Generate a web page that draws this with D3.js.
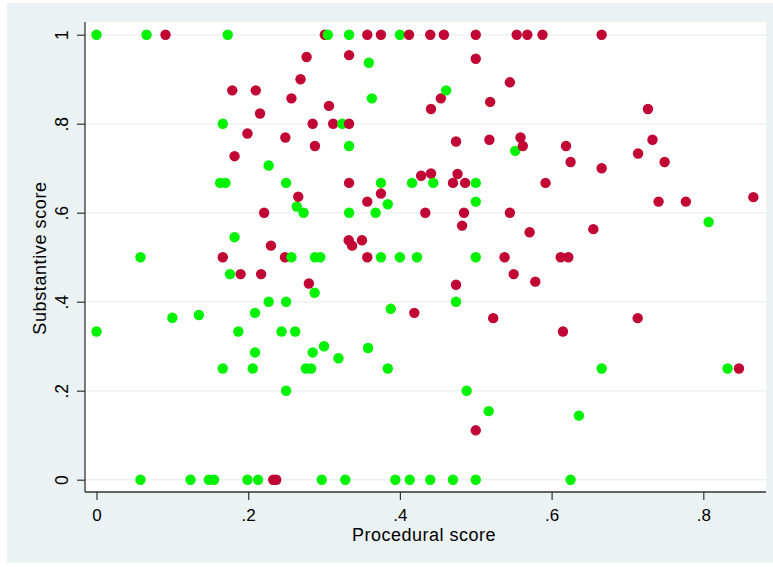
<!DOCTYPE html>
<html>
<head>
<meta charset="utf-8">
<script src="https://cdn.jsdelivr.net/npm/d3@7"></script>
<style>
  html, body { margin: 0; padding: 0; background: #ffffff; }
  svg { display: block; }
  text { font-family: "Liberation Sans", Arial, sans-serif; fill: #000; }
</style>
</head>
<body>
<svg id="chart" width="773" height="567"></svg>
<script>
// Procedural vs. substantive scores, two groups
const greenProcedural = [0, 0.066, 0.173, 0.305, 0.333, 0.4, 0.359, 0.461, 0.363, 0.1665, 0.324, 0.333,
  0.552, 0.227, 0.163, 0.170, 0.25, 0.375, 0.416, 0.444, 0.5, 0.5, 0.264, 0.273, 0.333, 0.368, 0.384,
  0.807, 0.182, 0.058, 0.257, 0.288, 0.295, 0.375, 0.4, 0.4225, 0.5, 0.176, 0.2876, 0.227, 0.25, 0.474,
  0.388, 0.1, 0.135, 0.209, 0, 0.187, 0.244, 0.262, 0.3, 0.358, 0.209, 0.285, 0.319, 0.1665, 0.206,
  0.276, 0.283, 0.384, 0.666, 0.832, 0.25, 0.488, 0.517, 0.636, 0.058, 0.124, 0.148, 0.155, 0.199,
  0.213, 0.297, 0.328, 0.394, 0.413, 0.44, 0.47, 0.5, 0.625];
const greenSubstantive = [1, 1, 1, 1, 1, 1, 0.937, 0.875, 0.857, 0.8, 0.8, 0.75,
  0.739, 0.706, 0.667, 0.667, 0.667, 0.667, 0.667, 0.667, 0.667, 0.625, 0.614, 0.6, 0.6, 0.6, 0.619,
  0.579, 0.545, 0.5, 0.5, 0.5, 0.5, 0.5, 0.5, 0.5, 0.5, 0.462, 0.42, 0.4, 0.4, 0.4,
  0.384, 0.364, 0.37, 0.375, 0.333, 0.333, 0.333, 0.333, 0.3, 0.296, 0.286, 0.286, 0.273, 0.25, 0.25,
  0.25, 0.25, 0.25, 0.25, 0.25, 0.2, 0.2, 0.154, 0.144, 0, 0, 0, 0, 0,
  0, 0, 0, 0, 0, 0, 0, 0, 0];

const redProcedural = [0.091, 0.301, 0.357, 0.375, 0.412, 0.44, 0.458, 0.5, 0.554, 0.568, 0.588, 0.666,
  0.277, 0.333, 0.5, 0.269, 0.545, 0.179, 0.21, 0.257, 0.454, 0.519, 0.3065, 0.441, 0.727, 0.2156,
  0.285, 0.312, 0.333, 0.199, 0.249, 0.559, 0.474, 0.518, 0.733, 0.288, 0.562, 0.619, 0.714, 0.182,
  0.625, 0.749, 0.666, 0.428, 0.441, 0.476, 0.333, 0.470, 0.486, 0.592, 0.266, 0.375, 0.357, 0.741,
  0.777, 0.866, 0.221, 0.4335, 0.4845, 0.545, 0.482, 0.571, 0.655, 0.3325, 0.337, 0.35, 0.23, 0.1665,
  0.2485, 0.357, 0.538, 0.612, 0.622, 0.19, 0.217, 0.55, 0.5785, 0.28, 0.474, 0.419, 0.523, 0.7135,
  0.615, 0.847, 0.5, 0.233, 0.237];
const redSubstantive = [1, 1, 1, 1, 1, 1, 1, 1, 1, 1, 1, 1,
  0.95, 0.954, 0.946, 0.9, 0.893, 0.875, 0.875, 0.857, 0.857, 0.849, 0.84, 0.833, 0.833, 0.823,
  0.8, 0.8, 0.8, 0.778, 0.769, 0.769, 0.76, 0.764, 0.764, 0.75, 0.75, 0.75, 0.733, 0.727,
  0.714, 0.714, 0.7, 0.683, 0.688, 0.687, 0.667, 0.667, 0.667, 0.667, 0.636, 0.643, 0.625, 0.625,
  0.625, 0.635, 0.6, 0.6, 0.6, 0.6, 0.571, 0.556, 0.563, 0.538, 0.526, 0.538, 0.526, 0.5,
  0.5, 0.5, 0.5, 0.5, 0.5, 0.462, 0.462, 0.462, 0.445, 0.441, 0.438, 0.375, 0.363, 0.363,
  0.333, 0.25, 0.111, 0, 0];

const xTicks = [0, 0.2, 0.4, 0.6, 0.8];
const xTickLabels = ["0", ".2", ".4", ".6", ".8"];
const yTicks = [0, 0.2, 0.4, 0.6, 0.8, 1];
const yTickLabels = ["0", ".2", ".4", ".6", ".8", "1"];

const groupColors = { green: "#00f200", red: "#c10534" };

const svg = d3.select("#chart");

// graph region and plot region
svg.append("rect").attr("x", 7).attr("y", 3).attr("width", 766).attr("height", 560)
  .attr("fill", "#eaf2f3");
const plot = { left: 85, top: 22, right: 766, bottom: 492 };
svg.append("rect").attr("x", plot.left).attr("y", plot.top)
  .attr("width", plot.right - plot.left).attr("height", plot.bottom - plot.top)
  .attr("fill", "#ffffff");

const x = d3.scaleLinear().domain([0, 0.8]).range([96.5, 703.3]);
const y = d3.scaleLinear().domain([0, 1]).range([479.7, 34.7]);

// horizontal grid lines
svg.append("g").selectAll("line").data(yTicks).join("line")
  .attr("x1", plot.left).attr("x2", plot.right)
  .attr("y1", d => y(d)).attr("y2", d => y(d))
  .attr("stroke", "#eaf2f3").attr("stroke-width", 1.5);

// y axis
const yAxis = svg.append("g").attr("transform", `translate(${plot.left},0)`)
  .call(d3.axisLeft(y).tickValues(yTicks).tickSize(8).tickPadding(0)
    .tickFormat((d, i) => yTickLabels[i]));
yAxis.select(".domain").attr("d", `M0,${plot.top}V${plot.bottom}`)
  .attr("stroke", "#333").attr("stroke-width", 1.3);
yAxis.selectAll(".tick line").attr("stroke", "#333").attr("stroke-width", 1.2);
yAxis.selectAll(".tick text")
  .attr("x", null).attr("dy", null)
  .attr("transform", "translate(-17.5,0) rotate(-90)")
  .attr("text-anchor", "middle")
  .style("font-size", "17.5px");

// x axis
const xAxis = svg.append("g").attr("transform", `translate(0,${plot.bottom})`)
  .call(d3.axisBottom(x).tickValues(xTicks).tickSize(8).tickPadding(0)
    .tickFormat((d, i) => xTickLabels[i]));
xAxis.select(".domain").attr("d", `M${plot.left},0H${plot.right}`)
  .attr("stroke", "#333").attr("stroke-width", 1.3);
xAxis.selectAll(".tick text")
  .attr("y", 28.5).attr("dy", null)
  .style("font-size", "17px");
xAxis.selectAll(".tick line").attr("stroke", "#333").attr("stroke-width", 1.2);

// axis titles
svg.append("text").attr("x", 424).attr("y", 541).attr("text-anchor", "middle")
  .style("font-size", "18px").style("letter-spacing", "0.5px").text("Procedural score");
svg.append("text").attr("transform", "translate(45.5,258) rotate(-90)")
  .attr("text-anchor", "middle").style("font-size", "18px").style("letter-spacing", "0.6px")
  .text("Substantive score");

// points: both groups, drawn left to right
const points = [];
greenProcedural.forEach((v, i) => points.push({ px: v, sy: greenSubstantive[i], g: "green" }));
redProcedural.forEach((v, i) => points.push({ px: v, sy: redSubstantive[i], g: "red" }));
points.sort((a, b) => a.px - b.px);

svg.append("g").selectAll("circle").data(points).join("circle")
  .attr("cx", d => x(d.px)).attr("cy", d => y(d.sy)).attr("r", 5.2)
  .attr("fill", d => groupColors[d.g]);
</script>
</body>
</html>
